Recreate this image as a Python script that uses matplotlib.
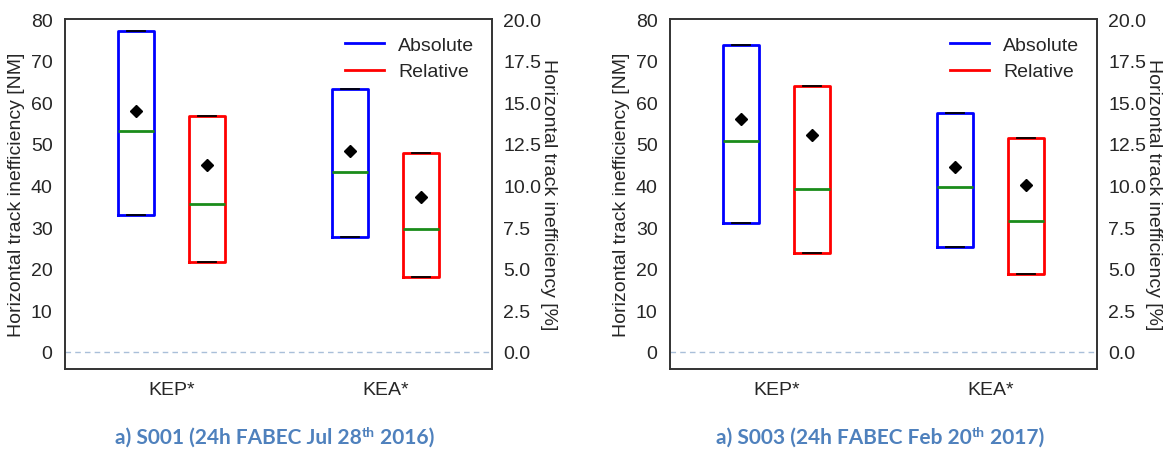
import matplotlib
matplotlib.use("Agg")
import matplotlib.pyplot as plt
from matplotlib.lines import Line2D

plt.rcParams["font.family"] = ["Liberation Sans", "DejaVu Sans"]
plt.rcParams["text.color"] = "#262626"
plt.rcParams["axes.labelcolor"] = "#262626"
plt.rcParams["xtick.color"] = "#262626"
plt.rcParams["ytick.color"] = "#262626"

categories = ["KEP*", "KEA*"]

# S001 (24h FABEC, 28 Jul 2016)
s001_abs_q1 = [33.0, 27.5]
s001_abs_med = [53.0, 43.2]
s001_abs_q3 = [77.0, 63.2]
s001_abs_mean = [57.8, 48.2]
s001_rel_q1 = [5.4, 4.5]
s001_rel_med = [8.9, 7.4]
s001_rel_q3 = [14.2, 11.95]
s001_rel_mean = [11.25, 9.3]

# S003 (24h FABEC, 20 Feb 2017)
s003_abs_q1 = [31.1, 25.1]
s003_abs_med = [50.6, 39.6]
s003_abs_q3 = [73.8, 57.5]
s003_abs_mean = [55.9, 44.4]
s003_rel_q1 = [5.95, 4.7]
s003_rel_med = [9.8, 7.85]
s003_rel_q3 = [16.0, 12.85]
s003_rel_mean = [13.05, 10.0]

captions = [("a) S001 (24h FABEC Jul 28", "th", " 2016)"),
            ("a) S003 (24h FABEC Feb 20", "th", " 2017)")]

FS = 14
CAPTION_COLOR = "#4F81BD"


def stats(q1, med, q3, mean):
    return [dict(med=m, q1=a, q3=b, whislo=a, whishi=b, mean=mu, fliers=[])
            for a, m, b, mu in zip(q1, med, q3, mean)]


def draw_boxes(ax, st, positions, color):
    ax.bxp(st, positions=positions, widths=0.17, showmeans=True,
           showfliers=False, patch_artist=False,
           boxprops=dict(color=color, lw=2),
           whiskerprops=dict(color=color, lw=2),
           capprops=dict(color="black", lw=1.3),
           medianprops=dict(color="#1a8c1a", lw=2),
           meanprops=dict(marker="D", markerfacecolor="black",
                          markeredgecolor="black", markersize=6),
           capwidths=0.085, manage_ticks=False)


def panel(rect, abs_data, rel_data):
    ax = fig.add_axes(rect)
    x = [1, 2]
    draw_boxes(ax, stats(*abs_data), [p - 1 / 6 for p in x], "blue")
    ax.axhline(0, color="#a9bfd9", lw=1, ls="--", dashes=(4, 3))
    ax.set_xlim(0.5, 2.5)
    ax.set_ylim(-4.1, 80)
    ax.set_yticks(range(0, 81, 10))
    ax.set_xticks(x)
    ax.set_xticklabels(categories)
    ax.tick_params(length=0, labelsize=FS, pad=9)
    ax.set_ylabel("Horizontal track inefficiency [NM]", fontsize=FS, labelpad=4)

    ax2 = ax.twinx()
    draw_boxes(ax2, stats(*rel_data), [p + 1 / 6 for p in x], "red")
    ax2.set_ylim(-4.1 / 4, 20)
    ax2.set_yticks([i * 2.5 for i in range(9)])
    ax2.set_yticklabels([f"{i * 2.5:.1f}" for i in range(9)])
    ax2.tick_params(length=0, labelsize=FS, pad=8)
    ax2.set_ylabel("Horizontal track inefficiency [%]", fontsize=FS,
                   rotation=270, labelpad=-1, va="bottom")
    for a in (ax, ax2):
        for s in a.spines.values():
            s.set_color("#333333")
            s.set_linewidth(1.2)

    handles = [Line2D([], [], color="blue", lw=2),
               Line2D([], [], color="red", lw=2)]
    ax2.legend(handles, ["Absolute", "Relative"], loc="upper right",
               frameon=False, fontsize=FS, handlelength=2.0,
               borderaxespad=0.5, handletextpad=0.75, labelspacing=0.45)
    return ax


def caption(cx, y, parts):
    main, sup, tail = parts
    kw = dict(fontfamily="Lato", fontweight="bold", color=CAPTION_COLOR)
    r = fig.canvas.get_renderer()
    t1 = fig.text(0, y, main, fontsize=15, **kw)
    t2 = fig.text(0, y, sup, fontsize=10, **kw)
    t3 = fig.text(0, y, tail, fontsize=15, **kw)
    W = fig.bbox.width
    w1 = t1.get_window_extent(r).width / W
    w2 = t2.get_window_extent(r).width / W
    w3 = t3.get_window_extent(r).width / W
    x0 = cx - (w1 + w2 + w3) / 2
    t1.set_x(x0)
    t2.set_x(x0 + w1)
    t2.set_y(y + 7 / fig.bbox.height)
    t3.set_x(x0 + w1 + w2)


fig = plt.figure(figsize=(11.7, 4.52), dpi=100)
panel([65 / 1170, 82 / 452, 427 / 1170, 350 / 452],
      (s001_abs_q1, s001_abs_med, s001_abs_q3, s001_abs_mean),
      (s001_rel_q1, s001_rel_med, s001_rel_q3, s001_rel_mean))
panel([670 / 1170, 82 / 452, 427 / 1170, 350 / 452],
      (s003_abs_q1, s003_abs_med, s003_abs_q3, s003_abs_mean),
      (s003_rel_q1, s003_rel_med, s003_rel_q3, s003_rel_mean))

caption(275 / 1170, 1 - 444 / 452, captions[0])
caption(880 / 1170, 1 - 444 / 452, captions[1])

fig.savefig("out.png", dpi=100)
